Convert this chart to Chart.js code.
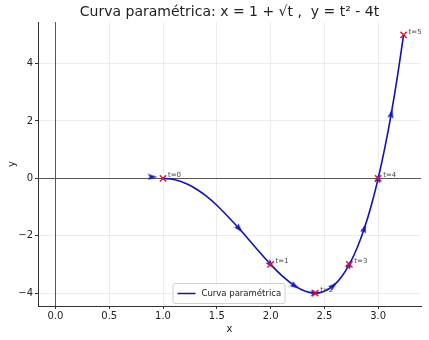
<!DOCTYPE html>
<html>
<head>
<meta charset="utf-8">
<script src="https://cdn.jsdelivr.net/npm/chart.js@4.4.0/dist/chart.umd.min.js"></script>
<style>
  html, body { margin: 0; padding: 0; background: #fff; }
  #wrap { width: 429px; height: 340px; }
</style>
</head>
<body>
<div id="wrap"><canvas id="curveChart"></canvas></div>
<script>
// parametric curve samples, t = 0 ... 5
const curveX = [1, 1.1, 1.2236, 1.3162, 1.4, 1.5, 1.7071, 1.866, 2, 2.118, 2.2247, 2.3229, 2.4142,
                2.5, 2.5811, 2.6583, 2.7321, 2.8028, 2.8708, 2.9365, 3, 3.0616, 3.1213, 3.1794, 3.2361];
const curveY = [0, -0.0399, -0.1975, -0.39, -0.6144, -0.9375, -1.75, -2.4375, -3, -3.4375, -3.75, -3.9375, -4,
                -3.9375, -3.75, -3.4375, -3, -2.4375, -1.75, -0.9375, 0, 1.0625, 2.25, 3.5625, 5];

// direction arrows (t = 0, 0.5, ..., 4.5) with their tangent vectors
const arrowX  = [0.9, 1.7071, 2, 2.2247, 2.4142, 2.5811, 2.7321, 2.8708, 3, 3.1213];
const arrowY  = [0.05, -1.75, -3, -3.75, -4, -3.75, -3, -1.75, 0, 2.25];
const arrowDX = [1, 0.707, 0.5, 0.408, 0.354, 0.316, 0.289, 0.267, 0.25, 0.236];
const arrowDY = [0, -3, -2, -1, 0, 1, 2, 3, 4, 5];

// integer t markers
const markX = [1, 2, 2.4142, 2.7321, 3, 3.2361];
const markY = [0, -3, -4, -3, 0, 5];
const markLabels = ['t=0', 't=1', 't=2', 't=3', 't=4', 't=5'];

const xTicks = [0, 0.5, 1, 1.5, 2, 2.5, 3];
const yTicks = [-4, -2, 0, 2, 4];

const FONT = "'DejaVu Sans', sans-serif";
const LINE_COLOR = '#1212b4';

// small arrowhead sprite pointing right
const arrowHead = document.createElement('canvas');
arrowHead.width = 10;
arrowHead.height = 7;
(function () {
    const g = arrowHead.getContext('2d');
    g.fillStyle = '#1414c4';
    g.beginPath();
    g.moveTo(10, 3.5);
    g.lineTo(0.5, 0.5);
    g.lineTo(2.5, 3.5);
    g.lineTo(0.5, 6.5);
    g.closePath();
    g.fill();
})();

const extras = {
    id: 'extras',
    beforeDatasetsDraw(chart) {
        // reference lines x = 0 and y = 0
        const { ctx, chartArea: a, scales: { x, y } } = chart;
        ctx.save();
        ctx.strokeStyle = '#555';
        ctx.lineWidth = 1;
        ctx.beginPath();
        const y0 = Math.round(y.getPixelForValue(0)) + 0.5;
        const x0 = Math.round(x.getPixelForValue(0)) + 0.5;
        ctx.moveTo(a.left, y0); ctx.lineTo(a.right, y0);
        ctx.moveTo(x0, a.top); ctx.lineTo(x0, a.bottom);
        ctx.stroke();
        ctx.restore();
    },
    afterDraw(chart) {
        const { ctx, chartArea: a, scales: { x, y } } = chart;
        ctx.save();
        // title
        ctx.fillStyle = '#222';
        ctx.font = '14px ' + FONT;
        ctx.textAlign = 'center';
        ctx.textBaseline = 'middle';
        ctx.fillText('Curva paramétrica: x = 1 + √t ,  y = t² - 4t', (a.left + a.right) / 2, 12.5);

        // t labels next to the markers
        ctx.font = '7px ' + FONT;
        ctx.fillStyle = '#444';
        ctx.textAlign = 'left';
        markLabels.forEach((lbl, i) => {
            ctx.fillText(lbl, x.getPixelForValue(markX[i]) + 5, y.getPixelForValue(markY[i]) - 3);
        });

        // legend, lower centre
        const w = 112, h = 20;
        const lx = (a.left + a.right) / 2 - w / 2 - 1;
        const ly = a.bottom - 3 - h;
        ctx.fillStyle = 'rgba(255,255,255,0.85)';
        ctx.strokeStyle = '#d0d0d0';
        ctx.lineWidth = 1;
        ctx.beginPath();
        ctx.roundRect(lx + 0.5, ly + 0.5, w, h, 2);
        ctx.fill();
        ctx.stroke();
        ctx.strokeStyle = LINE_COLOR;
        ctx.lineWidth = 1.5;
        ctx.beginPath();
        ctx.moveTo(lx + 5, ly + h / 2 + 0.5);
        ctx.lineTo(lx + 23, ly + h / 2 + 0.5);
        ctx.stroke();
        ctx.fillStyle = '#222';
        ctx.font = '8.5px ' + FONT;
        ctx.textBaseline = 'middle';
        ctx.fillText('Curva paramétrica', lx + 29, ly + h / 2 + 1);
        ctx.restore();
    }
};

function arrowAngle(c) {
    if (c.type !== 'data') return 0;
    const i = c.dataIndex;
    const sx = c.chart.scales.x, sy = c.chart.scales.y;
    const px = sx.getPixelForValue(arrowX[i] + arrowDX[i] * 0.1) - sx.getPixelForValue(arrowX[i]);
    const py = sy.getPixelForValue(arrowY[i] + arrowDY[i] * 0.1) - sy.getPixelForValue(arrowY[i]);
    return Math.atan2(py, px) * 180 / Math.PI;
}

new Chart(document.getElementById('curveChart'), {
    type: 'scatter',
    data: {
        datasets: [
            {
                label: 'marcas t',
                data: markX.map((v, i) => ({ x: v, y: markY[i] })),
                pointStyle: 'crossRot',
                pointRadius: 4.5,
                borderColor: '#e0102a',
                borderWidth: 1.4,
                showLine: false
            },
            {
                label: 'flechas',
                data: arrowX.map((v, i) => ({ x: v, y: arrowY[i] })),
                pointStyle: arrowHead,
                pointRotation: arrowAngle,
                showLine: false
            },
            {
                label: 'Curva paramétrica',
                data: curveX.map((v, i) => ({ x: v, y: curveY[i] })),
                showLine: true,
                borderColor: LINE_COLOR,
                borderWidth: 1.6,
                pointRadius: 0,
                cubicInterpolationMode: 'monotone'
            }
        ]
    },
    options: {
        responsive: true,
        maintainAspectRatio: false,
        animation: false,
        layout: { padding: { left: 0, right: 8, top: 22, bottom: 0 } },
        plugins: {
            legend: { display: false },
            tooltip: { enabled: false }
        },
        scales: {
            x: {
                type: 'linear',
                min: -0.162,
                max: 3.398,
                afterBuildTicks: s => { s.ticks = xTicks.map(v => ({ value: v })); },
                afterFit: s => { s.height = 34; },
                grid: { color: 'rgba(0,0,0,0.07)', tickColor: '#333', tickLength: 3 },
                border: { color: '#333', width: 1 },
                ticks: {
                    color: '#222',
                    font: { family: FONT, size: 10 },
                    padding: 1,
                    maxRotation: 0,
                    callback: v => v.toFixed(1)
                },
                title: { display: true, text: 'x', color: '#222', font: { family: FONT, size: 10 },
                         padding: { top: 0, bottom: 5 } }
            },
            y: {
                type: 'linear',
                min: -4.45,
                max: 5.45,
                afterBuildTicks: s => { s.ticks = yTicks.map(v => ({ value: v })); },
                afterFit: s => { s.width = 38; },
                grid: { color: 'rgba(0,0,0,0.07)', tickColor: '#333', tickLength: 3 },
                border: { color: '#333', width: 1 },
                ticks: {
                    color: '#222',
                    font: { family: FONT, size: 10 },
                    padding: 2,
                    callback: v => (v < 0 ? '\u2212' + Math.abs(v) : String(v))
                },
                title: { display: true, text: 'y', color: '#222', font: { family: FONT, size: 10 },
                         padding: { top: 6, bottom: 0 } }
            }
        }
    },
    plugins: [extras]
});
</script>
</body>
</html>
